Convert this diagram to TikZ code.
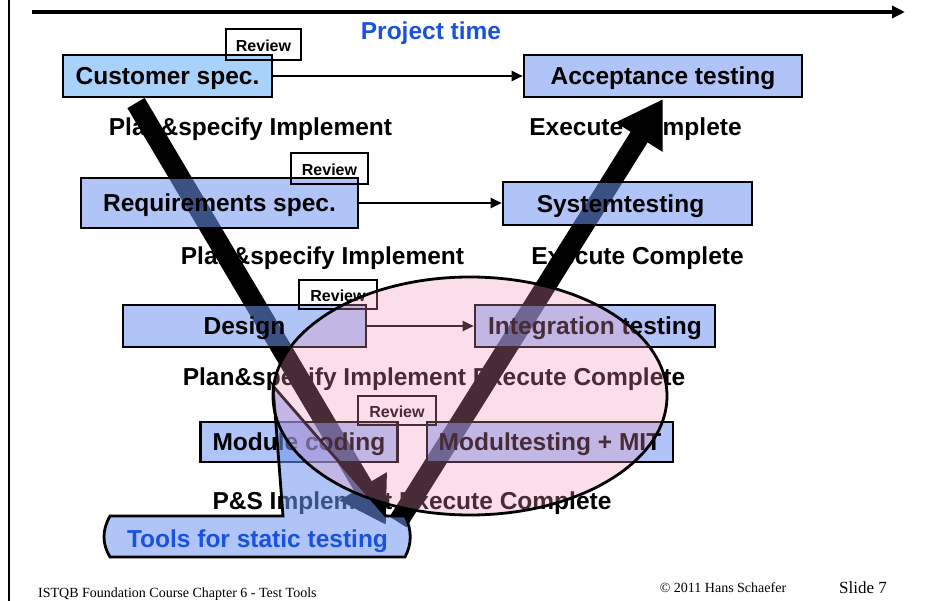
\documentclass[tikz,border=0pt]{standalone}
\usepackage{fontspec}
\setmainfont{Liberation Serif}
\setsansfont{Liberation Sans}
\usetikzlibrary{arrows.meta}
\definecolor{boxblue}{RGB}{111,148,240}
\definecolor{custblue}{RGB}{96,173,245}
\definecolor{zonepink}{RGB}{238,148,187}
\definecolor{timeblue}{RGB}{24,82,222}

\begin{document}
\begin{tikzpicture}[
    x=1pt, y=-1pt,
    box/.style={draw, rectangle, line width=2.6pt, fill=boxblue, fill opacity=0.55, text opacity=1, minimum height=42pt, inner sep=0pt, text height=22.5pt, text depth=5pt, font=\sffamily\bfseries\fontsize{24.5}{29}\selectfont},
    review/.style={draw, rectangle, line width=1.1pt, minimum height=30pt, inner sep=0pt, text height=14pt, text depth=0.6pt, font=\sffamily\bfseries\fontsize{16}{19}\selectfont},
    phase/.style={inner sep=0pt, text height=22.5pt, text depth=5pt, font=\sffamily\bfseries\fontsize{24.5}{29}\selectfont},
    arrow/.style={line width=2.2pt, -{Triangle[length=11pt,width=10pt]}},
    varrow/.style={line width=20pt, -{Triangle[length=45pt,width=52pt]}},
    foot/.style={inner sep=0pt, font=\fontsize{14}{17}\selectfont}
]
\useasboundingbox (0,0) rectangle (929,601);

% time axis and frame
\coordinate (frametop) at (9,0);
\coordinate (framebot) at (9,601);
\coordinate (timestart) at (32,12);
\coordinate (timeend) at (905,12);
\draw[line width=1.5pt] (frametop) -- (framebot);
\draw[line width=3.5pt, -{Triangle[length=13pt,width=12pt]}] (timestart) -- (timeend);
\node[phase, text=timeblue] (ptime) at (431,31) {Project time};

% activity labels
\node[phase] (plan1) at (250.5,127) {Plan\&specify Implement};
\node[phase] (exec1) at (635.5,127) {Execute Complete};
\node[phase] (plan2) at (322.5,256) {Plan\&specify Implement};
\node[phase] (exec2) at (637.5,256) {Execute Complete};
\node[phase] (row3) at (434,377) {Plan\&specify Implement Execute Complete};
\node[phase] (row4) at (412,501) {P\&S Implement Execute Complete};

% the V
\coordinate (vtop) at (136,103);
\coordinate (vbot) at (386,525);
\coordinate (vstart) at (398,522);
\coordinate (vend) at (663,99);
\draw[varrow] (vtop) -- (vbot);
\draw[varrow] (vstart) -- (vend);

% levels
\node[box, fill=custblue, minimum width=209pt] (cust) at (167.5,76) {Customer spec.};
\node[box, minimum width=278pt] (accept) at (663,76) {Acceptance testing};
\node[box, minimum width=277pt, minimum height=50pt] (reqspec) at (219.5,203) {Requirements spec.};
\node[box, minimum width=249pt, minimum height=43pt] (systest) at (627.5,203.5) {\hspace*{-14pt}Systemtesting};
\node[box, minimum width=243pt] (design) at (244.5,326) {Design};
\node[box, minimum width=240pt] (integ) at (595,326) {Integration testing};
\node[box, minimum width=197pt, minimum height=40pt] (modcode) at (299,442) {Module coding};
\node[box, minimum width=246pt, minimum height=40pt] (modtest) at (550,442) {Modultesting + MIT};

\draw[arrow] (cust) -- (accept);
\draw[arrow] (reqspec.east) -- (reqspec.east -| systest.west);
\draw[arrow] (design) -- (integ);

\node[review, minimum width=75pt, minimum height=31pt] (rev1) at (263.5,44.5) {Review};
\node[review, minimum width=77pt, minimum height=31pt] (rev2) at (329.5,168.5) {Review};
\node[review, minimum width=78pt, minimum height=29pt] (rev3) at (338,294.5) {Review};
\node[review, minimum width=78pt, minimum height=29pt] (rev4) at (397,410.5) {Review};

% callout for static tools
\draw[line width=2.8pt, fill=boxblue, fill opacity=0.55] (110,516) -- (283,516) -- (273,386) -- (386,516) -- (405,516)
    .. controls (412,530) and (412,544) .. (405,557) -- (110,557)
    .. controls (102,544) and (102,530) .. (110,516) -- cycle;

% static testing zone
\draw[line width=2.8pt, fill=zonepink, fill opacity=0.3] (470,396) ellipse [x radius=197pt, y radius=119pt];

\node[phase, text=timeblue] (tools) at (257.5,539) {Tools for static testing};

% footer
\node[foot, anchor=west] (course) at (38,594) {ISTQB Foundation Course Chapter 6 - Test Tools};
\node[foot] (copy) at (723,588) {\textcopyright{} 2011 Hans Schaefer};
\node[foot, font=\fontsize{17}{20}\selectfont] (slide) at (863,588) {Slide 7};
\end{tikzpicture}
\end{document}
